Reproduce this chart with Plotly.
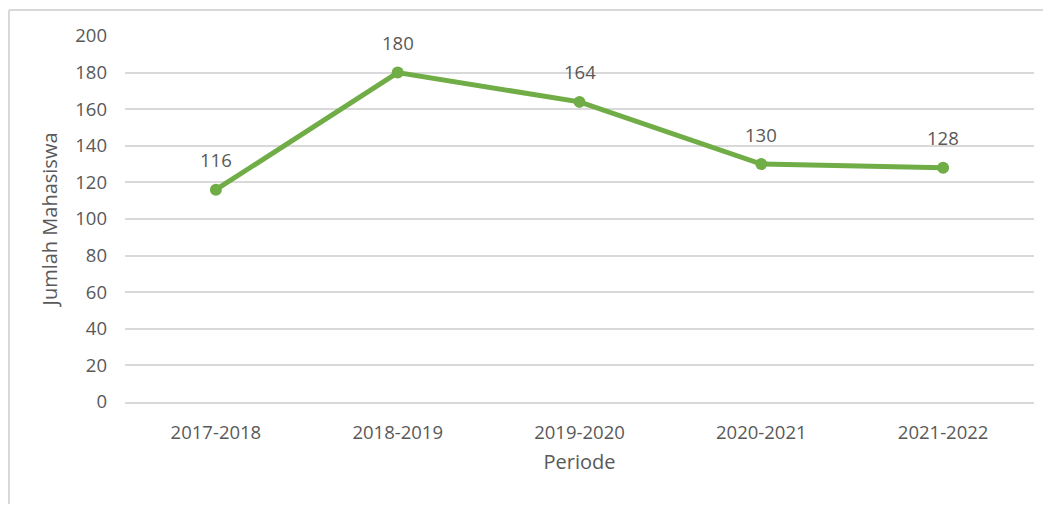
import plotly.graph_objects as go

periode = ["2017-2018", "2018-2019", "2019-2020", "2020-2021", "2021-2022"]
jumlah = [116, 180, 164, 130, 128]
y_ticks = [0, 20, 40, 60, 80, 100, 120, 140, 160, 180, 200]

# page body has an 8px margin, so the figure is offset by (8, 8)
W, H = 1043, 497
ml, mr, mt, mb = 117, 17, 28, 103
pw = W - ml - mr
ph = H - mt - mb

FONT = "Open Sans"
GRAY = "#595959"
GRID = "#D9D9D9"
GREEN = "#70AD47"

fig = go.Figure()
fig.add_trace(go.Scatter(
    x=periode, y=jumlah, mode="lines+markers",
    line=dict(color=GREEN, width=5),
    marker=dict(color=GREEN, size=12),
    showlegend=False, hoverinfo="skip",
))

for p, v in zip(periode, jumlah):
    fig.add_annotation(x=p, y=v, text=str(v), showarrow=False, yshift=30,
                       font=dict(family=FONT, size=18.5, color=GRAY))

# outer chart border (left and top visible)
x_left = (1 - ml) / pw
x_right = (W - ml) / pw
y_top = 1 + (mt - 2) / ph
y_bot = -(mb - 1) / ph
fig.add_shape(type="line", xref="paper", yref="paper", x0=x_left, x1=x_left,
              y0=y_top, y1=y_bot, line=dict(color=GRID, width=2))
fig.add_shape(type="line", xref="paper", yref="paper", x0=x_left, x1=x_right,
              y0=y_top, y1=y_top, line=dict(color=GRID, width=2))

fig.update_layout(
    width=W, height=H,
    margin=dict(l=ml, r=mr, t=mt, b=mb),
    paper_bgcolor="white", plot_bgcolor="white",
    font=dict(family=FONT, size=18.5, color=GRAY),
    xaxis=dict(
        type="category", range=[-0.5, 4.5], showgrid=False,
        showline=True, linecolor=GRID, linewidth=2,
        ticks="", ticklabelstandoff=13,
        tickfont=dict(family=FONT, size=18.5, color=GRAY),
        title=dict(text="Periode", font=dict(family=FONT, size=20, color=GRAY), standoff=12),
    ),
    yaxis=dict(
        range=[0, 200], tickvals=y_ticks, showgrid=True, gridcolor=GRID, gridwidth=2,
        zeroline=False, showline=False, ticks="", ticklabelstandoff=17,
        tickfont=dict(family=FONT, size=18.5, color=GRAY),
        title=dict(text="Jumlah Mahasiswa", font=dict(family=FONT, size=20, color=GRAY), standoff=12),
    ),
)

fig.write_html("out.html")
